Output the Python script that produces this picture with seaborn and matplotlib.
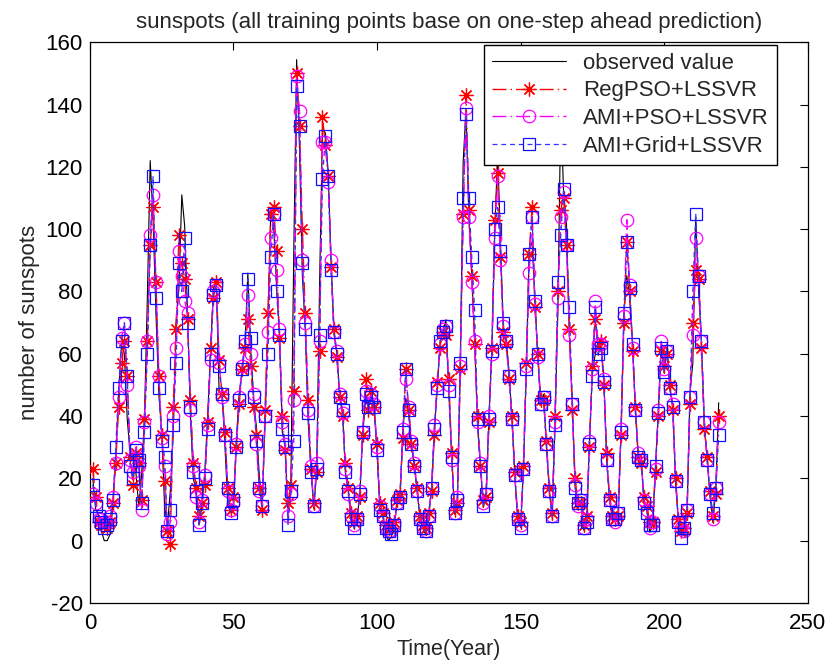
import matplotlib
matplotlib.use("Agg")
import matplotlib.pyplot as plt
import seaborn as sns
import pandas as pd
import numpy as np

# ---------------- data ----------------
years_index = list(range(1, 220))

observed = [20, 10, 8, 3, 0, 0, 2, 11, 27, 47, 63, 60, 39, 28, 26, 22, 11, 21, 40, 78,
            122, 103, 73, 47, 35, 11, 5, 16, 34, 70, 81, 111, 101, 73, 40, 20, 16, 5, 11, 22,
            40, 60, 80.9, 83.4, 47.7, 47.8, 30.7, 12.2, 9.6, 10.2, 32.4, 47.6, 54, 62.9, 85.9, 61.2, 45.1, 36.4, 20.9, 11.4,
            37.8, 69.8, 106.1, 100.8, 81.6, 66.5, 34.8, 30.6, 7, 19.8, 92.5, 154.4, 125.9, 84.8, 68.1, 38.5, 22.8, 10.2, 24.1, 82.9,
            132, 130.9, 118.1, 89.9, 66.6, 60, 46.9, 41, 21.3, 16, 6.4, 4.1, 6.8, 14.5, 34, 45, 43.1, 47.5, 42.2, 28.1,
            10.1, 8.1, 2.5, 0, 1.4, 5, 12.2, 13.9, 35.4, 45.8, 41.1, 30.1, 23.9, 15.6, 6.6, 4, 1.8, 8.5, 16.6, 36.3,
            49.6, 64.2, 67, 70.9, 47.8, 27.5, 8.5, 13.2, 56.9, 121.5, 138.3, 103.2, 85.7, 64.6, 36.7, 24.2, 10.7, 15, 40.1, 61.5,
            98.5, 124.7, 96.3, 66.6, 64.5, 54.1, 39, 20.6, 6.7, 4.3, 22.7, 54.8, 93.8, 95.8, 77.2, 59.1, 44, 47, 30.5, 16.3,
            7.3, 37.6, 74, 139, 111.2, 101.6, 66.2, 44.7, 17, 11.3, 12.4, 3.4, 6, 32.3, 54.3, 59.7, 63.7, 63.5, 52.2, 25.4,
            13.1, 6.8, 6.3, 7.1, 35.6, 73, 85.1, 78, 64, 41.8, 26.2, 26.7, 12.1, 9.5, 2.7, 5, 24.4, 42, 63.5, 53.8,
            62, 48.5, 43.9, 18.6, 5.7, 3.6, 1.4, 9.6, 47.4, 57.1, 103.9, 80.6, 63.6, 37.6, 26.1, 14.2, 5.8, 16.7, 44.3]

regpso = [23, 14, 6, 5, 5, 4, 6, 12, 25, 43, 57, 64, 53, 27, 18, 28, 25, 13, 39, 64,
          95, 107, 83, 53, 34, 19, 3, -1, 43, 68, 98, 89, 84, 71, 45, 25, 17, 8, 12, 18,
          38, 62, 78, 83, 58, 47, 35, 17, 10, 14, 30, 44, 55, 62, 71, 56, 43, 34, 17, 10,
          42, 73, 105, 107, 93, 65, 40, 29, 12, 18, 48, 150, 133, 100, 73, 45, 23, 12, 22, 61,
          136, 127, 117, 88, 68, 59, 46, 40, 25, 17, 9, 6, 8, 14, 34, 52, 42, 48, 43, 31,
          12, 9, 5, 4, 4, 6, 13, 15, 33, 55, 42, 31, 24, 17, 8, 5, 4, 9, 16, 34,
          51, 62, 67, 66, 52, 28, 10, 12, 55, 105, 143, 106, 85, 63, 40, 24, 13, 14, 38, 62,
          103, 118, 91, 67, 63, 52, 40, 22, 8, 6, 24, 57, 92, 107, 75, 60, 45, 45, 32, 17,
          9, 40, 80, 106, 110, 95, 68, 42, 20, 12, 12, 5, 8, 30, 56, 71, 62, 64, 50, 28,
          14, 8, 7, 8, 34, 70, 96, 80, 61, 43, 27, 25, 14, 11, 6, 6, 22, 40, 61, 56,
          60, 50, 42, 20, 7, 3, 4, 9, 44, 70, 87, 84, 62, 36, 27, 16, 8, 15, 40]

amipso = [15, 12, 7, 7, 6, 6, 8, 14, 25, 46, 65, 70, 50, 26, 22, 30, 24, 10, 38, 64,
          98, 111, 83, 53, 33, 24, 2, 6, 40, 62, 93, 85, 77, 73, 42, 24, 14, 6, 13, 21,
          37, 58, 80, 82, 57, 46, 34, 16, 10, 12, 31, 46, 56, 63, 79, 60, 47, 31, 16, 11,
          40, 67, 97, 105, 87, 68, 38, 31, 8, 15, 45, 149, 138, 90, 70, 42, 24, 11, 25, 64,
          128, 128, 115, 90, 67, 61, 47, 41, 23, 15, 8, 5, 7, 16, 35, 48, 44, 47, 44, 30,
          11, 8, 4, 3, 3, 5, 12, 14, 36, 52, 43, 32, 25, 16, 7, 4, 3, 8, 17, 37,
          50, 63, 68, 69, 50, 26, 9, 14, 56, 104, 139, 104, 83, 64, 38, 25, 12, 15, 40, 60,
          97, 117, 90, 69, 64, 53, 39, 21, 7, 5, 23, 56, 86, 104, 76, 59, 44, 46, 31, 16,
          8, 38, 78, 104, 112, 95, 66, 44, 18, 11, 13, 4, 7, 32, 55, 77, 63, 63, 52, 26,
          13, 7, 6, 9, 36, 72, 103, 82, 62, 42, 28, 26, 13, 10, 4, 6, 23, 42, 64, 55,
          61, 49, 44, 19, 6, 4, 3, 10, 46, 66, 97, 85, 64, 38, 26, 15, 7, 17, 38]

amigrid = [18, 11, 8, 6, 4, 5, 7, 13, 30, 49, 64, 70, 53, 24, 20, 29, 26, 12, 35, 60,
           95, 117, 78, 49, 32, 27, 3, 10, 37, 57, 89, 80, 97, 70, 43, 22, 16, 5, 12, 20,
           36, 60, 79, 82, 56, 47, 34, 17, 9, 13, 30, 45, 55, 64, 84, 65, 46, 32, 17, 11,
           40, 60, 91, 105, 80, 66, 36, 30, 5, 16, 32, 146, 133, 89, 68, 41, 22, 11, 23, 66,
           116, 130, 117, 87, 67, 60, 46, 42, 22, 16, 7, 4, 7, 15, 35, 47, 43, 46, 43, 29,
           10, 8, 4, 3, 2, 5, 12, 14, 35, 55, 42, 31, 24, 16, 7, 4, 3, 8, 17, 36,
           49, 64, 67, 69, 48, 27, 9, 13, 57, 110, 137, 110, 91, 74, 39, 24, 11, 15, 39, 61,
           100, 107, 93, 70, 64, 53, 39, 21, 7, 4, 23, 55, 92, 104, 77, 60, 44, 46, 31, 16,
           8, 37, 83, 98, 113, 95, 75, 44, 17, 12, 13, 4, 6, 31, 53, 75, 60, 62, 51, 26,
           13, 7, 7, 9, 35, 73, 96, 81, 63, 42, 27, 26, 12, 9, 5, 5, 24, 41, 62, 54,
           61, 49, 43, 19, 6, 1, 4, 10, 46, 80, 105, 85, 64, 38, 26, 15, 9, 17, 34]

series_names = ["observed value", "RegPSO+LSSVR", "AMI+PSO+LSSVR", "AMI+Grid+LSSVR"]
x_ticks = [0, 50, 100, 150, 200, 250]
y_ticks = [-20, 0, 20, 40, 60, 80, 100, 120, 140, 160]

# ---------------- style ----------------
sns.set_style("white")
plt.rcParams["font.family"] = ["Liberation Sans", "DejaVu Sans"]
plt.rcParams["axes.unicode_minus"] = False

fig = plt.figure(figsize=(8.25, 6.7), dpi=100)
ax = fig.add_axes([0.109, 0.100, 0.870, 0.837])

df = pd.DataFrame({"t": years_index, "obs": observed, "r": regpso,
                   "m": amipso, "b": amigrid})

asterisk = (8, 2, 0)

sns.lineplot(data=df, x="t", y="obs", ax=ax, color="black", lw=0.8,
             estimator=None, sort=False, label=series_names[0], zorder=2)
sns.lineplot(data=df, x="t", y="r", ax=ax, color="#ff0000", lw=1.0,
             linestyle=(0, (10, 3, 1, 3)), marker=asterisk, markersize=10,
             markeredgewidth=0.9, markeredgecolor="#ff0000",
             estimator=None, sort=False, label=series_names[1], zorder=3)
sns.lineplot(data=df, x="t", y="m", ax=ax, color="#ff00ff", lw=1.0,
             linestyle=(0, (10, 3, 1, 3)), marker="o", markersize=9, markerfacecolor="none",
             markeredgewidth=0.9, markeredgecolor="#ff00ff",
             estimator=None, sort=False, label=series_names[2], zorder=4)
sns.lineplot(data=df, x="t", y="b", ax=ax, color="#3333ff", lw=0.9,
             linestyle=(0, (4, 3)), marker="s", markersize=9, markerfacecolor="none",
             markeredgewidth=0.9, markeredgecolor="#1010ff",
             estimator=None, sort=False, label=series_names[3], zorder=5)

ax.set_xlim(0, 250)
ax.set_ylim(-20, 160)
ax.set_xticks(x_ticks)
ax.set_yticks(y_ticks)
ax.tick_params(direction="in", length=6, width=0.8, top=True, right=True,
               labelsize=16, colors="black")
ax.tick_params(axis="x", pad=7)
ax.tick_params(axis="y", pad=5)
for s in ax.spines.values():
    s.set_visible(True)
    s.set_color("black")
    s.set_linewidth(0.9)

ax.set_xlabel("Time(Year)", fontsize=15.5, labelpad=4)
ax.set_ylabel("number of sunspots", fontsize=16, labelpad=4)
ax.set_title("sunspots (all training points base on one-step ahead prediction)",
             fontsize=16, pad=10)

leg = ax.legend(loc="upper right", bbox_to_anchor=(0.957, 0.995), fontsize=16,
                frameon=True, fancybox=False, framealpha=1, edgecolor="black",
                handlelength=3.3, borderpad=0.35, labelspacing=0.3, handletextpad=0.8,
                borderaxespad=0)
leg.get_frame().set_linewidth(1.0)

fig.savefig("out.png", dpi=100)
